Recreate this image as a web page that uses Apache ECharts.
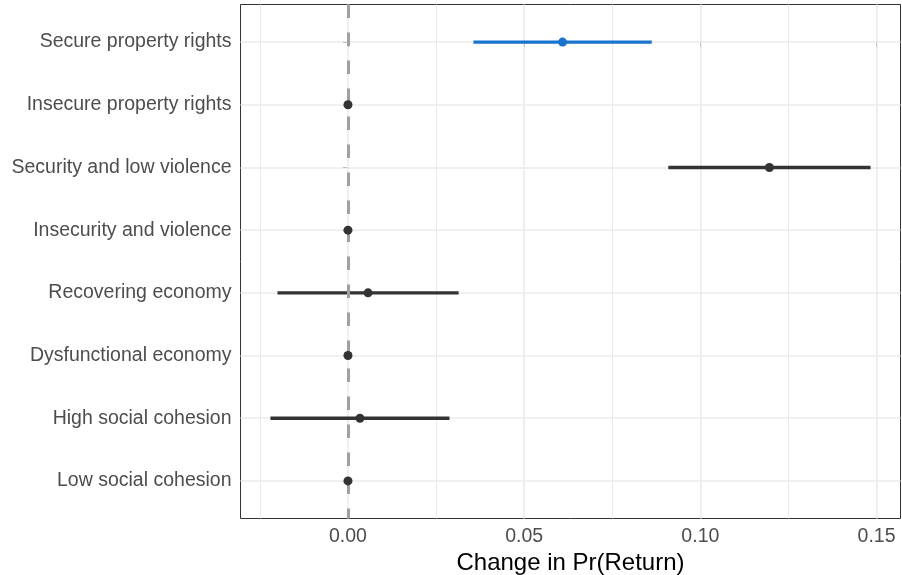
<!DOCTYPE html>
<html>
<head>
<meta charset="utf-8">
<script src="https://cdn.jsdelivr.net/npm/echarts@6/dist/echarts.min.js"></script>
<style>
  html, body { margin: 0; padding: 0; background: #fff; }
  #chart { width: 902px; height: 575px; }
</style>
</head>
<body>
<div id="chart"></div>
<script>
// ── Data ─────────────────────────────────────────────────────────────────────
const categories = [
    'Secure property rights',
    'Insecure property rights',
    'Security and low violence',
    'Insecurity and violence',
    'Recovering economy',
    'Dysfunctional economy',
    'High social cohesion',
    'Low social cohesion'
];
const estimates = [0.0609, 0, 0.1196, 0, 0.0057, 0, 0.0034, 0];
const lower     = [0.0356, 0, 0.0909, 0, -0.0200, 0, -0.0220, 0];
const upper     = [0.0862, 0, 0.1483, 0, 0.0314, 0, 0.0288, 0];
const highlight = [true, false, false, false, false, false, false, false];

const xMajor = [0, 0.05, 0.10, 0.15];
const xMinor = [-0.025, 0.025, 0.075, 0.125];
const yTicks = categories.map((c, i) => i);

const BLUE = '#1874CD';
const DARK = '#333333';
const FONT = '"Liberation Sans", Arial, sans-serif';

const colorOf = i => highlight[i] ? BLUE : DARK;

// ── Chart ────────────────────────────────────────────────────────────────────
const chart = echarts.init(document.getElementById('chart'), null, { renderer: 'canvas' });

const gridLine = (axis, values, width) => values.map(v => ({ [axis]: v, lineStyle: { width: width } }));

chart.setOption({
    animation: false,
    textStyle: { fontFamily: FONT },
    grid: {
        left: 240.5, right: 1.5, top: 4.5, bottom: 56.5,
        outerBoundsMode: 'none', containLabel: false,
        show: true, borderColor: DARK, borderWidth: 1, backgroundColor: '#fff'
    },
    xAxis: {
        type: 'value',
        min: -0.0305, max: 0.1568,
        name: 'Change in Pr(Return)',
        nameLocation: 'middle',
        nameGap: 33,
        nameTextStyle: { color: '#000', fontSize: 24, fontFamily: FONT },
        axisLine: { show: false },
        axisTick: { show: true, length: 5, customValues: xMajor, lineStyle: { color: DARK, width: 1 } },
        axisLabel: {
            customValues: xMajor, margin: 8,
            color: '#4D4D4D', fontSize: 19.5, fontFamily: FONT,
            formatter: v => v.toFixed(2)
        },
        splitLine: { show: false }
    },
    yAxis: {
        type: 'value',
        inverse: true,
        min: -0.6, max: 7.6,
        axisLine: { show: false },
        axisTick: { show: true, length: 5, customValues: yTicks, lineStyle: { color: DARK, width: 1 } },
        axisLabel: {
            customValues: yTicks, margin: 9,
            color: '#4D4D4D', fontSize: 19.5, fontFamily: FONT,
            formatter: v => categories[Math.round(v)]
        },
        splitLine: { show: false }
    },
    series: [
        // grid lines
        {
            type: 'scatter', data: [], z: 1, silent: true,
            markLine: {
                z: 1, silent: true, precision: 6, symbol: ['none', 'none'], label: { show: false },
                lineStyle: { color: '#EBEBEB', type: 'solid' },
                data: [
                    ...gridLine('xAxis', xMinor, 1),
                    ...gridLine('xAxis', xMajor, 1.6),
                    ...gridLine('yAxis', yTicks, 1.6)
                ]
            }
        },
        // confidence ranges
        {
            type: 'custom', z: 2, silent: true,
            data: categories.map((c, i) => [lower[i], upper[i], i]),
            renderItem: (params, api) => {
                const i = api.value(2);
                const a = api.coord([api.value(0), i]);
                const b = api.coord([api.value(1), i]);
                return {
                    type: 'line',
                    shape: { x1: a[0], y1: a[1], x2: b[0], y2: b[1] },
                    style: { stroke: colorOf(i), lineWidth: 3.4, lineCap: 'butt' }
                };
            }
        },
        // zero reference
        {
            type: 'scatter', data: [], z: 3, silent: true,
            markLine: {
                z: 3, silent: true, precision: 6, symbol: ['none', 'none'], label: { show: false },
                lineStyle: { color: '#A0A0A0', type: [13.5, 14.5], width: 3, opacity: 1 },
                data: [{ xAxis: 0 }]
            }
        },
        // point estimates
        {
            type: 'scatter', z: 4, silent: true,
            symbol: 'circle', symbolSize: 9,
            itemStyle: { opacity: 1 },
            data: estimates.map((v, i) => ({ value: [v, i], itemStyle: { color: colorOf(i), opacity: 1 } }))
        }
    ]
});
</script>
</body>
</html>
